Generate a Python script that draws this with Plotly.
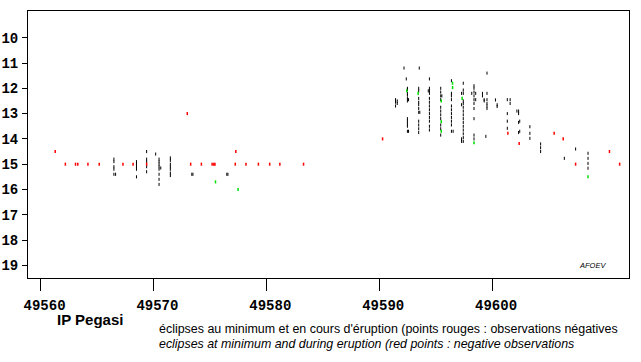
import plotly.graph_objects as go

# Julian day (JD - 2400000) and visual magnitude of each observation
black_jd = [
    49566.5, 49566.5, 49566.5, 49566.5, 49566.5, 49566.65,
    49568.5, 49568.5, 49568.5, 49568.5, 49568.5,
    49569.4, 49569.4, 49569.4, 49569.4, 49569.4,
    49570.2,
    49570.5, 49570.5, 49570.5, 49570.5, 49570.5, 49570.5, 49570.5, 49570.5, 49570.65,
    49571.5, 49571.5, 49571.5, 49571.5, 49571.5, 49571.5, 49571.5,
    49573.4, 49573.5, 49576.5, 49576.6,
    49591.45, 49591.45, 49591.45, 49591.6, 49591.6,
    49592.2, 49592.4,
    49592.5, 49592.5, 49592.5, 49592.5, 49592.5, 49592.5, 49592.5, 49592.5, 49592.5, 49592.5, 49592.5,
    49592.6, 49592.6,
    49593.5, 49593.5, 49593.5, 49593.5, 49593.5, 49593.5, 49593.5, 49593.5, 49593.5, 49593.5, 49593.5,
    49593.6, 49593.55,
    49594.45, 49594.45, 49594.45, 49594.45, 49594.45, 49594.45, 49594.45, 49594.45, 49594.45, 49594.45,
    49594.45, 49594.45, 49594.45, 49594.35,
    49595.45, 49595.45, 49595.45, 49595.45, 49595.45, 49595.45, 49595.45, 49595.45, 49595.45, 49595.45,
    49595.45, 49595.55,
    49596.4, 49596.4, 49596.4, 49596.4, 49596.4, 49596.4, 49596.4, 49596.4, 49596.4, 49596.4, 49596.4,
    49596.55,
    49597.45, 49597.45, 49597.45, 49597.45, 49597.45, 49597.45, 49597.45, 49597.45, 49597.45, 49597.45,
    49597.45, 49597.45, 49597.45, 49597.45, 49597.45,
    49597.3, 49597.3, 49597.3, 49597.3,
    49598.4, 49598.4, 49598.4, 49598.4, 49598.4, 49598.4, 49598.4, 49598.4, 49598.4, 49598.4,
    49598.55, 49598.55, 49598.2,
    49599.15, 49599.15, 49599.3, 49599.3,
    49599.55, 49599.55, 49599.55, 49599.55, 49599.55, 49599.55, 49599.45,
    49600.3, 49600.45, 49600.45,
    49601.35, 49601.35, 49601.35, 49601.35, 49601.6, 49601.6,
    49602.2, 49602.35, 49602.35, 49602.35, 49602.35, 49602.45, 49602.45,
    49603.35, 49603.35, 49603.35,
    49604.3, 49604.3, 49604.3,
    49606.4, 49607.4,
    49608.5, 49608.5, 49608.5, 49608.5,
]
black_mag = [
    14.8, 14.9, 15.1, 15.2, 15.4, 15.4,
    14.9, 15.0, 15.1, 15.2, 15.5,
    14.5, 14.8, 14.9, 15.1, 15.3,
    14.6,
    14.8, 14.9, 15.0, 15.1, 15.2, 15.4, 15.6, 15.8, 15.15,
    14.75, 14.85, 15.0, 15.1, 15.2, 15.35, 15.45,
    15.4, 15.4, 15.4, 15.4,
    12.45, 12.55, 12.7, 12.5, 12.6,
    11.2, 11.63,
    12.0, 12.05, 12.2, 12.27, 12.4, 12.5, 13.2, 13.3, 13.4, 13.5, 13.7,
    12.45, 13.7,
    12.0, 12.1, 12.4, 12.55, 12.65, 12.8, 12.95, 13.3, 13.45, 13.6, 13.75,
    12.95, 11.2,
    11.63, 12.0, 12.1, 12.2, 12.4, 12.55, 12.7, 12.85, 13.0, 13.15,
    13.3, 13.5, 13.65, 12.1,
    12.0, 12.15, 12.3, 12.45, 12.75, 12.9, 13.05, 13.2, 13.45, 13.6,
    13.85, 12.3,
    11.7, 12.2, 12.3, 12.45, 12.7, 12.85, 13.0, 13.15, 13.3, 13.45, 13.7,
    13.7,
    11.8, 12.07, 12.2, 12.5, 12.6, 12.75, 12.9, 13.05, 13.2, 13.35,
    13.5, 13.65, 13.8, 13.95, 14.1,
    12.2, 12.65, 14.0, 14.1,
    11.9, 12.0, 12.15, 12.3, 12.45, 12.6, 12.8, 13.2, 13.85, 14.0,
    12.2, 12.45, 12.2,
    12.2, 12.3, 12.45, 12.5,
    11.4, 12.2, 12.45, 12.6, 12.7, 12.8, 13.9,
    12.46, 12.65, 12.72,
    12.45, 13.0, 13.3, 13.58, 12.45, 12.6,
    12.9, 12.9, 13.0, 13.35, 13.75, 13.3, 13.7,
    13.52, 13.78, 13.98,
    14.2, 14.35, 14.5,
    14.77, 14.4,
    14.57, 14.77, 14.97, 15.16,
]

# negative observations ("fainter than")
red_jd = [49561.3, 49562.2, 49563.1, 49563.3, 49564.2, 49565.2, 49567.3, 49568.2, 49569.4,
          49573.0, 49573.3, 49574.25, 49575.2, 49575.35, 49575.45, 49577.25, 49577.3,
          49578.2, 49579.3, 49580.3, 49581.2, 49583.3, 49590.3, 49601.4, 49602.4,
          49605.5, 49606.3, 49607.4, 49610.4, 49611.3]
red_mag = [14.5, 15.0, 15.0, 15.0, 15.0, 15.0, 15.0, 15.0, 15.0,
           13.0, 15.0, 15.0, 15.0, 15.0, 15.0, 15.0, 14.5,
           15.0, 15.0, 15.0, 15.0, 15.0, 14.0, 13.78, 14.18,
           13.78, 14.0, 15.0, 14.5, 15.0]

green_jd = [49575.5, 49577.5, 49592.45, 49593.45, 49595.5, 49595.5, 49595.5,
            49596.5, 49596.5, 49597.35, 49598.4, 49608.5]
green_mag = [15.7, 16.0, 12.1, 12.2, 12.5, 13.32, 13.7,
             11.8, 11.97, 12.4, 14.15, 15.5]

x_ticks = [49560, 49570, 49580, 49590, 49600]
y_ticks = [10, 11, 12, 13, 14, 15, 16, 17, 18, 19]


def dash(color, w):
    return dict(symbol="line-ns", size=2.2, color=color, line=dict(color=color, width=w))


fig = go.Figure()
fig.add_trace(go.Scatter(x=black_jd, y=black_mag, mode="markers", marker=dash("black", 1),
                         showlegend=False))
fig.add_trace(go.Scatter(x=red_jd, y=red_mag, mode="markers", marker=dash("#ff0000", 1.5),
                         showlegend=False))
fig.add_trace(go.Scatter(x=green_jd, y=green_mag, mode="markers", marker=dash("#00e000", 1.5),
                         showlegend=False))

tick_font = dict(family="Liberation Mono", size=14, color="black", weight="bold")

fig.update_layout(
    width=641, height=362,
    margin=dict(l=28, r=12, t=11, b=84),
    paper_bgcolor="white", plot_bgcolor="white",
    xaxis=dict(range=[49558.89, 49612.13], tickvals=x_ticks, ticktext=[str(v) for v in x_ticks],
               showgrid=False, zeroline=False, showline=True, mirror=True, linecolor="black",
               linewidth=1, ticks="outside", ticklen=12, tickcolor="black", tickwidth=1,
               tickfont=tick_font, ticklabelshift=4, ticklabelstandoff=2, automargin=False),
    yaxis=dict(range=[19.5, 8.944], tickvals=y_ticks, ticktext=[str(v) for v in y_ticks],
               showgrid=False, zeroline=False, showline=True, mirror=True, linecolor="black",
               linewidth=1, ticks="outside", ticklen=5, tickcolor="black", tickwidth=1,
               tickfont=tick_font, ticklabelstandoff=1, automargin=False),
)


def px_x(p):
    return (p - 28) / 601.0


def px_y(p):
    return (278 - p) / 267.0


fig.add_annotation(text="<b>IP Pegasi</b>", x=px_x(55), y=px_y(319), xref="paper", yref="paper",
                   xanchor="left", yanchor="middle", showarrow=False,
                   font=dict(family="Liberation Sans", size=15, color="black"))
fig.add_annotation(text="éclipses au minimum et en cours d'éruption (points rouges : observations négatives",
                   x=px_x(157), y=px_y(329), xref="paper", yref="paper",
                   xanchor="left", yanchor="middle", showarrow=False,
                   font=dict(family="Liberation Sans", size=12.45, color="black"))
fig.add_annotation(text="<i>eclipses at minimum and during eruption (red points : negative observations</i>",
                   x=px_x(157), y=px_y(343.5), xref="paper", yref="paper",
                   xanchor="left", yanchor="middle", showarrow=False,
                   font=dict(family="Liberation Sans", size=12.4, color="black"))
fig.add_annotation(text="<i>AFOEV</i>", x=px_x(577), y=px_y(265), xref="paper", yref="paper",
                   xanchor="left", yanchor="middle", showarrow=False,
                   font=dict(family="Liberation Sans", size=7.5, color="black"))

# remove the browser's default 8px page margin so the figure sits at the window corner
fig.write_html("out.html", config={"displayModeBar": False},
               post_script="document.body.style.margin='0px';")
